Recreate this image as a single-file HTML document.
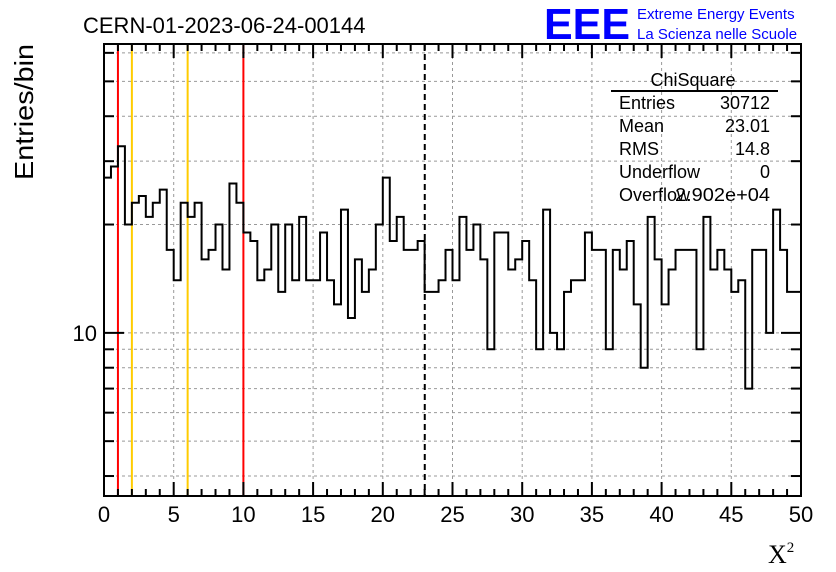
<!DOCTYPE html>
<html><head><meta charset="utf-8"><style>
body{margin:0;background:#fff;}
svg{display:block;font-family:"Liberation Sans",sans-serif;}
</style></head><body>
<svg id="c" width="836" height="572">
<rect width="836" height="572" fill="#fff"/>
<text x="83" y="33" font-size="22">CERN-01-2023-06-24-00144</text>
<text x="544" y="39" font-size="44" font-weight="bold" fill="#0000ff" textLength="86" lengthAdjust="spacingAndGlyphs">EEE</text>
<text x="637" y="19" font-size="15" fill="#0000ff">Extreme Energy Events</text>
<text x="637" y="39" font-size="15" fill="#0000ff">La Scienza nelle Scuole</text>
<text transform="translate(33,180) rotate(-90)" font-size="26" textLength="136" lengthAdjust="spacingAndGlyphs">Entries/bin</text>
<text x="768" y="563" font-size="26" font-family="Liberation Serif,serif">X<tspan font-size="15" dy="-11">2</tspan></text>
<g id="grid"></g><g id="lines"></g><g id="hist"></g><g id="axes"></g>
<g font-size="18">
<text x="693" y="86" text-anchor="middle">ChiSquare</text>
<line x1="611" y1="91" x2="778" y2="91" stroke="#000" stroke-width="2"/>
<text x="619" y="109">Entries</text><text x="770" y="109" text-anchor="end">30712</text>
<text x="619" y="132">Mean</text><text x="770" y="132" text-anchor="end">23.01</text>
<text x="619" y="155">RMS</text><text x="770" y="155" text-anchor="end">14.8</text>
<text x="619" y="178">Underflow</text><text x="770" y="178" text-anchor="end">0</text>
<text x="619" y="201">Overflow</text><text x="675" y="201" textLength="95" lengthAdjust="spacingAndGlyphs">2.902e+04</text>
</g>
</svg>
<script>
const counts=[27,29,33,20,23,24,21,23,25,17,14,23,21,23,16,17,20,15,26,23,19,18,14,15,20,13,20,14,21,14,14,19,14,12,22,11,16,13,15,20,27,18,21,17,17,18,13,13,14,17,14,21,17,20,16,9,19,19,15,16,18,14,9,22,10,9,13,14,14,19,17,17,9,17,15,18,12,8,21,16,12,15,17,17,17,9,21,15,17,15,13,14,7,17,17,10,22,17,13,13];
const binWidth=[0.5];
const xTicks=[0,5,10,15,20,25,30,35,40,45,50];
const yTicks=[4,5,6,7,8,9,10,20,30,40,50,60];
const yLabels=[10];
const refLines=[1,2,6,10];
const refColors=['#ff0000','#ffcc00','#ffcc00','#ff0000'];
const meanValue=[23.01];
const NS='http://www.w3.org/2000/svg';
const X0=104,X1=801,Y0=496,Y1=44,XMIN=0,XMAX=50,YMIN=3.52,YMAX=63.5;
const sx=v=>X0+(v-XMIN)/(XMAX-XMIN)*(X1-X0);
const sy=v=>Y0-(Math.log10(v)-Math.log10(YMIN))/(Math.log10(YMAX)-Math.log10(YMIN))*(Y0-Y1);
function mk(t,a,p){const e=document.createElementNS(NS,t);for(const k in a)e.setAttribute(k,a[k]);p.appendChild(e);return e;}
const grid=document.getElementById('grid'),axes=document.getElementById('axes'),lines=document.getElementById('lines'),hist=document.getElementById('hist');
xTicks.forEach(v=>{if(v>XMIN&&v<XMAX){const l=mk('line',{x1:sx(v),x2:sx(v),y1:Y1,y2:Y0,stroke:'#999','stroke-dasharray':'3,3'},grid);

}});
yTicks.forEach(v=>{const l=mk('line',{x1:X0,x2:X1,y1:sy(v),y2:sy(v),stroke:'#999','stroke-dasharray':'3,3'},grid);

});
refLines.forEach((v,i)=>{const l=mk('line',{x1:sx(v),x2:sx(v),y1:Y1,y2:Y0,stroke:refColors[i],'stroke-width':2},lines);

});
const ml=mk('line',{x1:sx(meanValue[0]),x2:sx(meanValue[0]),y1:Y1,y2:Y0,stroke:'#000','stroke-width':2,'stroke-dasharray':'6,4'},lines);


let d='M'+sx(0)+','+sy(counts[0]);
counts.forEach((c,i)=>{const a=sx(i*binWidth[0]),b=sx((i+1)*binWidth[0]);d+=' L'+a+','+sy(c)+' L'+b+','+sy(c);});
const hp=mk('path',{d:d,fill:'none',stroke:'#000','stroke-width':2},hist);


const fr=mk('rect',{x:X0,y:Y1,width:X1-X0,height:Y0-Y1,fill:'none',stroke:'#000','stroke-width':2},axes);


for(let v=0;v<=50;v+=1){const big=v%5===0,L=big?14:7;
mk('line',{x1:sx(v),x2:sx(v),y1:Y0,y2:Y0-L,stroke:'#000','stroke-width':2},axes);
mk('line',{x1:sx(v),x2:sx(v),y1:Y1,y2:Y1+L,stroke:'#000','stroke-width':2},axes);}
xTicks.forEach(v=>{const t=mk('text',{x:sx(v),y:522,'font-size':22,'text-anchor':'middle'},axes);t.textContent=v;

});
yTicks.forEach(v=>{const L=v===10?20:10;
mk('line',{x1:X0,x2:X0+L,y1:sy(v),y2:sy(v),stroke:'#000','stroke-width':2},axes);
mk('line',{x1:X1,x2:X1-L,y1:sy(v),y2:sy(v),stroke:'#000','stroke-width':2},axes);});
yLabels.forEach(v=>{const t=mk('text',{x:97,y:sy(v)+8,'font-size':22,'text-anchor':'end'},axes);t.textContent=v;

});
</script>
</body></html>
